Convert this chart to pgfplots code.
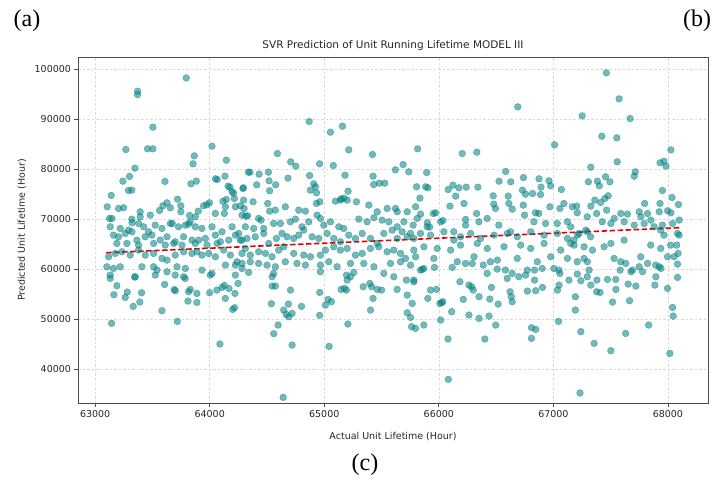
\documentclass[border=0pt]{standalone}
\usepackage{pgfplots}
\pgfplotsset{compat=1.18}
\usepackage{pgfplotstable}
\usepackage{fontspec}
\setmainfont{DejaVu Sans}
\newfontfamily\serif{Liberation Serif}

\definecolor{dots}{RGB}{0,128,128}

\pgfplotstableread{
x y
63795 98260
63370 95600
63370 94940
63504 88400
63268 83930
63457 84070
63504 84070
64020 84600
63865 82670
63854 81070
64145 81800
63347 80200
63300 78540
63242 77600
63320 75800
63290 75730
63140 74740
63609 77540
63836 77070
63883 77600
64050 78070
64066 77930
64133 78600
64337 79400
63105 72470
63204 72130
63248 72270
63125 70130
63146 70130
63393 71470
63320 70000
63322 69270
63627 73270
63592 72670
63562 71730
63656 72270
63719 74000
63748 72670
63748 71470
63824 70730
63900 71600
63975 72870
63998 73270
63946 72670
64115 73600
64145 73930
64215 74130
64194 75530
64176 76400
64160 76600
64208 75200
64290 76130
64267 72670
64300 72130
64128 71130
63673 69130
63815 69000
63830 69470
64314 70600
63393 70467
63481 70800
63874 70467
64049 71133
64137 72467
64224 72467
63131 68467
63219 68133
63291 67800
63379 69133
63423 68467
63466 67467
63524 68800
63583 68133
63656 69133
63728 68467
63787 68800
63874 68467
63932 68133
64020 68467
64107 67467
64195 68467
64253 67133
63160 66800
63204 66467
63262 67133
63321 67467
63364 65800
63437 66467
63495 66800
63568 65800
63627 66467
63699 65467
63772 66467
63845 65800
63903 65800
63962 66133
64049 66800
64093 65467
64166 65800
64224 66800
64282 65800
63189 65133
63277 65133
63379 64800
63510 65133
63612 64800
63685 65133
63758 64800
63874 65133
63976 64800
64064 65133
63117 62467
63175 63133
63233 63467
63306 62800
63379 63800
63437 62800
63510 63133
63583 62133
63627 61800
63699 62800
63772 63467
63845 63133
63889 63467
63932 62800
63991 63133
64049 62467
64122 63800
64180 62800
64238 61467
64282 63133
63102 60467
63160 60133
63219 60467
63408 60467
63510 60467
63539 59800
63627 59467
63714 60467
63787 60133
63932 59800
64020 59133
64137 60800
64224 60800
64282 60133
63131 58800
63350 58467
63524 58800
63699 58800
63772 58467
64005 58800
64224 58800
63131 58130
63786 58130
64868 89530
65054 87400
65159 88600
65214 83870
65421 82930
65815 84070
64591 83130
64707 81470
64751 80600
64959 81070
65079 80730
64352 79400
64431 79000
64512 79400
64683 78200
64872 78730
65181 78800
65426 78600
65432 76930
65481 77200
65528 77200
65621 79870
65688 80930
65738 79470
65806 76470
64294 76270
64410 76870
64518 77670
64576 76870
64523 75670
64879 75800
64908 77070
64923 76470
64932 75270
65208 75600
65148 74070
65173 74200
64296 73800
64378 73467
64506 73133
64573 71800
64523 71600
64660 72467
64777 71800
64835 71600
64931 73133
64961 73467
65097 73600
65141 73800
65200 73800
65281 73467
65389 72800
65462 71467
65549 72133
65622 72133
65637 71467
65724 71467
65797 72467
64282 70800
64331 70667
64427 70133
64448 69800
64558 69133
64617 69133
64704 69467
64748 70000
64806 68467
64864 69467
64937 70800
64966 70133
64996 68800
65054 69467
65127 68467
65170 68133
65302 70000
65374 69467
65433 70267
65505 69800
65564 69467
65637 68467
65695 69467
65776 68800
65811 70133
64311 68467
64384 68133
64471 68133
64267 65800
64325 66133
64398 66467
64471 67133
64515 65133
64582 66133
64631 67133
64675 66467
64733 66133
64777 66800
64821 67800
64894 66467
64952 66133
65025 67133
65083 66133
65141 65467
65214 66800
65272 66133
65331 67133
65403 66133
65462 65133
65520 67133
65593 67800
65637 66133
65680 67467
65724 66467
65782 66133
64311 64133
64354 62800
64427 63467
64486 63133
64544 62467
64602 63800
64646 64467
64733 63133
64821 62800
64879 62467
64966 62800
65010 63800
65083 64467
65141 63800
65200 64133
65272 62800
65331 63133
65403 64133
65476 64467
65549 63467
65607 63800
65666 63133
65709 62133
65797 62467
64282 61133
64354 61467
64427 61133
64500 60800
64573 60467
64660 61467
64762 61133
64835 60800
64966 60800
65039 61467
65112 60467
65229 61133
65345 61133
65433 60467
65578 61133
65666 61467
65753 60800
64340 59333
64558 59133
64966 59467
65258 59333
65520 59133
64641 34330
64719 44800
65042 44530
64559 47070
64597 48800
65206 49000
64960 50730
64646 51800
64667 50930
64690 50470
64719 51130
64687 53000
64801 52530
64538 53070
64960 55330
65010 52800
65033 53930
65062 53470
64705 55800
64545 56600
64573 56600
65147 55930
65176 56130
65194 55800
65340 56470
65398 57130
65413 56470
65462 55930
65500 55800
65426 54130
65404 51800
65607 58470
65636 55930
65724 54800
65768 53130
65724 51270
65753 50330
65762 48470
65797 48130
65782 57470
64545 58470
65229 58470
65200 57800
65194 58800
65840 59800
65782 57800
65717 57800
63143 49130
64089 45000
63717 49530
63583 51670
63332 52530
63390 53400
63163 54870
63262 54330
63280 55400
63405 55270
63189 56670
63344 58400
63699 55670
63690 55900
63606 56930
63815 55470
63830 55930
63888 55130
63888 53330
63810 53600
63999 55270
64063 55800
64107 56330
64127 56730
64136 54130
64168 56130
64200 51930
64217 52270
64247 57130
64220 55130
66083 37930
67233 35200
66080 46000
66402 46000
66809 46130
66809 48270
66846 47930
67045 49530
67240 47470
65869 48800
66016 49800
66112 51470
66263 50800
66351 50130
66438 50600
66497 48800
65904 54130
66009 53130
66024 53270
66035 53470
66213 53930
66351 54470
66445 54000
66518 53000
66622 55470
66633 54470
66641 53470
66773 55600
66846 55670
66905 56330
67036 55800
67050 56800
67192 54470
67192 51800
67240 57670
65928 55800
65980 55930
66184 57470
66263 56800
66286 56470
66300 55800
66460 56330
66292 61130
65855 59930
65869 60130
65962 60330
66117 60330
66233 61130
66388 60800
66451 61470
66422 59130
66510 60000
66582 59800
66597 58130
66641 59130
66699 58470
66757 58800
66772 59800
66836 59800
66836 57800
66903 60130
67004 60130
67048 59800
67057 59130
67136 57800
67209 59000
67296 58470
65840 67133
65928 66800
66044 67467
66132 65800
66190 66467
66278 67133
66365 66133
66482 66800
66598 67133
66685 66467
66802 67467
66919 66800
67035 67133
67123 66133
67210 66800
67297 67467
65782 63800
65870 64467
65986 64133
66103 63800
66190 64800
66336 65133
66423 64133
66569 64467
66715 64800
66802 64133
66919 65133
67064 63800
67181 64800
67268 64467
65957 62133
66161 61467
66307 62467
66511 61800
66685 62133
66860 61467
66977 62467
67123 62133
67297 61467
68017 43130
67502 43670
67356 45130
67631 47130
67832 48800
68041 52330
68046 50600
67517 53400
67665 53670
67378 55470
67408 55330
67546 55930
67327 56800
67472 57930
67545 57930
67653 57000
67720 56600
67886 56800
67997 56130
68084 58330
67312 59800
67380 57800
67583 59800
67677 59470
67778 59470
67895 58470
67924 60470
67939 60130
68084 61000
68054 62470
68089 63130
68077 64800
68098 66800
67997 62470
67893 60800
67822 61130
67749 60470
67691 59800
67632 61130
67588 61470
67530 62130
67443 64470
67341 63800
67268 62130
67209 61470
67151 65130
67224 67130
67180 65800
67325 66470
67502 65130
67618 65800
67763 62470
67850 64800
67937 64130
68024 64800
67966 66800
67937 67800
67463 99270
67574 94070
67251 90670
67670 90130
67423 86600
67554 86270
68026 83870
67557 81470
67327 80400
67931 81270
67966 81600
67983 80600
67715 79470
67706 78600
67306 77470
67384 77600
67402 76670
67456 78470
67494 77470
67952 75730
68036 74330
68092 72930
67931 73130
67797 73130
67166 72470
67204 72600
67327 72600
67362 73800
67413 73330
67450 74130
67479 74670
67465 71800
67378 71130
67296 70470
67209 71270
67531 70130
67589 71130
67647 71000
67749 71470
67764 70470
67822 71130
67851 69800
67924 71470
67997 71670
68026 71270
68098 69800
68041 69130
67151 68470
67282 67800
67427 69470
67502 69130
67618 69470
67706 68800
67793 69130
67880 68470
67952 68800
68084 67130
66689 92470
66204 83130
66332 83400
67010 84870
66584 79530
65894 79330
65885 76470
65905 76270
66123 76800
66082 75930
66175 76270
66239 76400
66341 76400
66526 77600
66628 77470
66739 78330
66875 78070
66962 77670
66976 76670
66892 76400
67070 75930
66730 75800
66818 75130
66888 74930
66757 75000
65835 74200
65841 71000
65952 71130
65972 71270
65900 69270
65920 68400
66036 69730
66097 72600
66147 74600
66220 73130
66234 69930
66330 71130
66475 74670
66480 73000
66495 72130
66606 74600
66611 73130
66641 72000
66737 72800
66748 70800
66844 71270
66873 71130
66970 72470
67057 72130
67092 73130
65753 67130
65898 68470
66016 69470
66131 67470
66234 68800
66350 69470
66422 70130
66524 68800
66626 67470
66830 69470
66932 69130
67034 69130
67122 69470
}\svrdata

\begin{document}
\begin{tikzpicture}
\useasboundingbox (0,0) rectangle (718pt,480pt);
\begin{axis}[
  at={(78pt,77pt)}, anchor=south west,
  width=630pt, height=346pt, scale only axis,
  xmin=62850, xmax=68350, ymin=33200, ymax=102450,
  xtick={63000,64000,...,68000},
  ytick={40000,50000,...,100000},
  scaled ticks=false,
  /pgf/number format/fixed,
  /pgf/number format/precision=0,
  /pgf/number format/1000 sep={},
  /pgf/number format/assume math mode=true,
  ticklabel style={font=\fontsize{9.5}{11}\selectfont, text=black!85},
  tick align=outside, tick pos=left,
  major tick length=3.5pt,
  every tick/.style={black!70, line width=0.8pt},
  axis line style={black!70, line width=0.8pt},
  grid=major,
  major grid style={gray!30, line width=0.5pt, dash pattern=on 2.5pt off 2pt},
  clip=true,
]
\addplot[only marks, mark=*, mark size=3.4pt,
  mark options={fill=dots, draw=dots, fill opacity=0.55, draw opacity=0.55, line width=0.4pt}]
  table {\svrdata};
\addplot[red!90!black, line width=1.6pt, dash pattern=on 5.5pt off 2.5pt]
  coordinates {(63096,63280) (68098,68280)};
\end{axis}
\node[font=\fontsize{10.5}{12}\selectfont, text=black!85] at (393pt,434pt) {SVR Prediction of Unit Running Lifetime MODEL III};
\node[font=\fontsize{9.5}{11}\selectfont, text=black!85] at (393pt,43pt) {Actual Unit Lifetime (Hour)};
\node[font=\fontsize{9.5}{11}\selectfont, text=black!85, rotate=90] at (22pt,250pt) {Predicted Unit Lifetime (Hour)};
\node[font=\serif\fontsize{24}{24}\selectfont] at (27pt,459pt) {(a)};
\node[font=\serif\fontsize{24}{24}\selectfont] at (697pt,459pt) {(b)};
\node[font=\serif\fontsize{24}{24}\selectfont] at (365pt,15pt) {(c)};
\end{tikzpicture}
\end{document}
